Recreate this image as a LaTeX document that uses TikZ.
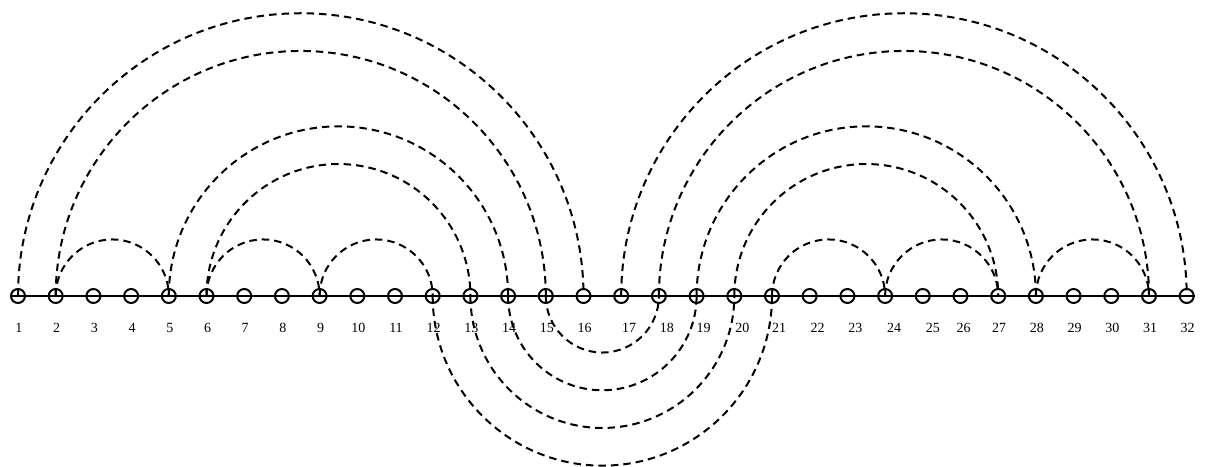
\documentclass[tikz,border=0pt]{standalone}
\usepackage{fontspec}
\setmainfont{Liberation Serif}
\begin{document}
\begin{tikzpicture}[x=1pt,y=1pt,
  vtx/.style={circle,draw,line width=2pt,minimum size=14pt,inner sep=0pt},
  lbl/.style={font=\fontsize{14}{14}\selectfont,inner sep=0pt},
  arcline/.style={line width=2pt,dash pattern=on 7.5pt off 5pt},
  axisline/.style={line width=2.2pt}]
\useasboundingbox (0,0) rectangle (1207,466);
\foreach \i in {1,...,32} {
  \pgfmathsetmacro\xx{18+(\i-1)*37.7}
  \node[vtx] (n\i) at (\xx,170) {};
}
\foreach \i/\o in {1/1,2/1,3/1,4/1,5/1,6/1,7/1,8/1,9/1,10/1,11/1,12/1,13/1,14/1,15/1,16/1,
  17/8,18/8,19/7,20/8,21/7,22/8,23/8,24/9,25/10,26/3,27/1,28/1,29/1,30/1,31/1,32/1} {
  \node[lbl] (l\i) at ([xshift=\o pt]n\i.center |- 0,138) {\i};
}
\draw[axisline] (n1.west) -- (n32.east);
% upper arcs
\foreach \a/\b in {1/16,2/15,5/14,6/13,2/5,6/9,9/12,17/32,18/31,19/28,20/27,21/24,24/27,28/31} {
  \draw[arcline] (n\a.center) arc[start angle=180,end angle=0,radius={(\b-\a)*18.85}];
}
% lower arcs
\foreach \a/\b in {12/21,13/20,14/19,15/18} {
  \draw[arcline] (n\a.center) arc[start angle=180,end angle=360,radius={(\b-\a)*18.85}];
}
\end{tikzpicture}
\end{document}
